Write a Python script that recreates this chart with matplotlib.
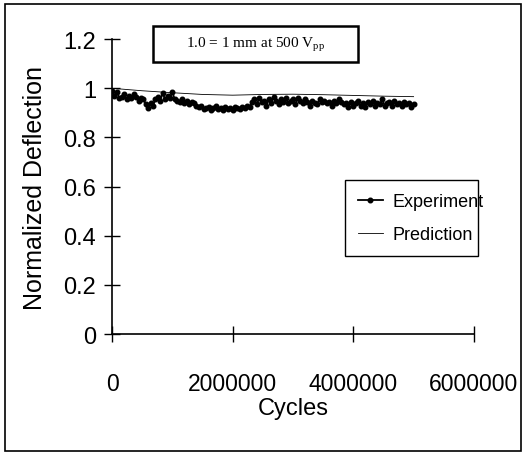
import numpy as np
import matplotlib
matplotlib.use('Agg')
import matplotlib.pyplot as plt
from matplotlib.patches import Rectangle
from matplotlib.ticker import FixedLocator

# dados do gráfico
exp_cycles = np.arange(0, 5000001, 40000)  # leitura a cada 40000 ciclos
exp_values = [
    0.99, 0.97, 0.985, 0.96,
    0.965, 0.975, 0.955, 0.97, 0.96, 0.975, 0.965, 0.95, 0.96, 0.955,
    0.935, 0.92, 0.94, 0.93,
    0.955, 0.965, 0.95, 0.98, 0.955, 0.97, 0.96, 0.985, 0.955,
    0.95, 0.945, 0.955, 0.94, 0.95, 0.935, 0.945, 0.94, 0.93,
    0.925, 0.93, 0.915, 0.92, 0.925, 0.91, 0.92, 0.93, 0.915, 0.92, 0.91,
    0.925, 0.915, 0.92, 0.91, 0.925, 0.92, 0.915, 0.925, 0.92, 0.93, 0.925,
    0.945, 0.955, 0.935, 0.96, 0.945, 0.95, 0.93, 0.955, 0.94, 0.965,
    0.95, 0.935, 0.955, 0.945, 0.96, 0.94, 0.95, 0.955, 0.935, 0.96,
    0.95, 0.94, 0.955, 0.945, 0.93, 0.95, 0.94, 0.935, 0.955,
    0.945, 0.95, 0.94, 0.945, 0.93, 0.95, 0.94, 0.955, 0.945,
    0.935, 0.94, 0.925, 0.945, 0.93, 0.94, 0.95, 0.93, 0.94, 0.925,
    0.945, 0.935, 0.95, 0.93,
    0.94, 0.935, 0.955, 0.93, 0.94, 0.945, 0.93, 0.95, 0.935, 0.94,
    0.93, 0.945, 0.935, 0.94, 0.925, 0.935,
]
pred_cycles = [0, 500000, 1000000, 1500000, 2000000, 2500000, 3000000,
               3500000, 4000000, 4500000, 5000000]
pred_values = [1.0, 0.99, 0.982, 0.975, 0.972, 0.975, 0.976, 0.974, 0.971,
               0.968, 0.966]

x_ticks = [0, 2000000, 4000000, 6000000]
y_ticks = [0, 0.2, 0.4, 0.6, 0.8, 1, 1.2]
y_labels = ['0', '0.2', '0.4', '0.6', '0.8', '1', '1.2']

sans = ['Liberation Sans', 'DejaVu Sans']
plt.rcParams['mathtext.fontset'] = 'custom'
plt.rcParams['mathtext.rm'] = 'Liberation Serif'

fig = plt.figure(figsize=(5.26, 4.56), dpi=100)
ax = fig.add_axes([0.213, 0.265, 0.688, 0.647])

ax.plot(exp_cycles, exp_values, color='black', lw=1.3, marker='o',
        markersize=3.3, label='Experiment')
ax.plot(pred_cycles, pred_values, color='black', lw=0.6, label='Prediction')

ax.set_xlim(0, 6000000)
ax.set_ylim(0, 1.2)
ax.xaxis.set_major_locator(FixedLocator(x_ticks))
ax.set_xticklabels([str(t) for t in x_ticks], family=sans, fontsize=16.5)
ax.yaxis.set_major_locator(FixedLocator(y_ticks))
ax.set_yticklabels(y_labels, family=sans, fontsize=17)
ax.tick_params(axis='both', direction='inout', length=11, width=1.0)
ax.tick_params(axis='x', pad=22)
ax.tick_params(axis='y', pad=6)

for s in ['top', 'right']:
    ax.spines[s].set_visible(False)
for s in ['left', 'bottom']:
    ax.spines[s].set_linewidth(1.2)

ax.set_ylabel('Normalized Deflection', family=sans, fontsize=18, labelpad=12)
ax.set_xlabel('Cycles', family=sans, fontsize=17, labelpad=1)

leg = ax.legend(loc='center', bbox_to_anchor=(0.619, 0.271, 0.417, 0.244),
                mode='expand', frameon=True, fancybox=False, framealpha=1,
                edgecolor='black', prop={'family': sans, 'size': 13},
                handlelength=1.4, handletextpad=0.5, labelspacing=0.9,
                borderpad=0.7)
leg.get_frame().set_linewidth(1.0)

# caixa de texto no topo
fig.patches.append(Rectangle((0.291, 0.862), 0.390, 0.079, transform=fig.transFigure,
                             fill=False, edgecolor='black', lw=1.8))
fig.text(0.486, 0.901, r'1.0 = 1 mm at 500 V$_{\mathrm{pp}}$', ha='center',
         va='center', family='Liberation Serif', fontsize=11)

# moldura da figura
fig.patches.append(Rectangle((0.0095, 0.009), 0.981, 0.98, transform=fig.transFigure,
                             fill=False, edgecolor='black', lw=1.2))

fig.savefig('out.png', dpi=100)
